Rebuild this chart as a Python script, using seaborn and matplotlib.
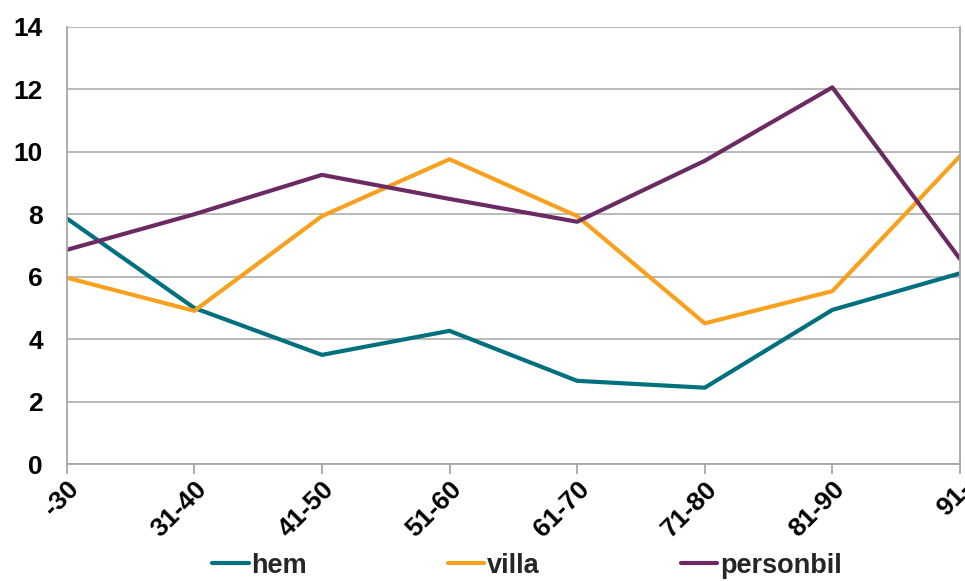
import matplotlib
matplotlib.use("Agg")
import matplotlib.pyplot as plt
import seaborn as sns
import pandas as pd
from matplotlib.lines import Line2D

categories = ["-30", "31-40", "41-50", "51-60", "61-70", "71-80", "81-90", "91-"]
hem = [7.87, 5.0, 3.5, 4.27, 2.67, 2.45, 4.94, 6.11]
villa = [5.97, 4.91, 7.94, 9.76, 7.94, 4.51, 5.54, 9.86]
personbil = [6.86, 8.0, 9.26, 8.49, 7.76, 9.71, 12.06, 6.57]
series_names = ["hem", "villa", "personbil"]
colors = ["#00707E", "#F7A11F", "#6B2A62"]
yticks = [0, 2, 4, 6, 8, 10, 12, 14]

df = pd.DataFrame({"kat": categories, "hem": hem, "villa": villa, "personbil": personbil})
long = df.melt(id_vars="kat", var_name="serie", value_name="varde")
long["x"] = long["kat"].map({c: i for i, c in enumerate(categories)})

sns.set_theme(style="white")
plt.rcParams["font.family"] = ["Liberation Sans", "DejaVu Sans"]
plt.rcParams["font.weight"] = "bold"

fig = plt.figure(figsize=(9.65, 5.81), dpi=100)
ax = fig.add_axes([0.0691, 0.2009, 0.9257, 0.7531])

sns.lineplot(data=long, x="x", y="varde", hue="serie", hue_order=series_names,
             palette=colors, linewidth=3, ax=ax, legend=False, sort=False)

ax.set_xlim(0, len(categories) - 1)
ax.set_ylim(0, 14)
ax.set_yticks(yticks)
ax.set_yticklabels([str(v) for v in yticks], fontsize=19, fontweight="bold")
ax.set_xticks(range(len(categories)))
ax.set_xticklabels(categories, rotation=45, ha="right", rotation_mode="anchor",
                   fontsize=19, fontweight="bold")
ax.set_xlabel("")
ax.set_ylabel("")
ax.grid(axis="y", color="#B3B3B3", linewidth=1.3)
ax.set_axisbelow(True)
for s in ["left", "bottom", "right"]:
    ax.spines[s].set_visible(True)
    ax.spines[s].set_color("#A6A6A6")
    ax.spines[s].set_linewidth(1.3)
ax.spines["top"].set_visible(False)
ax.tick_params(axis="x", which="major", length=7, width=1.3, color="#A6A6A6",
               direction="out", bottom=True, pad=2, labelcolor="black")
ax.tick_params(axis="y", length=0, pad=17, labelcolor="black")

handles = [Line2D([0], [0], color=c, linewidth=3) for c in colors]
fig.legend(handles, series_names, loc="center", bbox_to_anchor=(0.546, 0.026),
           ncol=3, frameon=False, handlelength=1.35, handletextpad=0.1,
           columnspacing=5.2, prop={"weight": "bold", "size": 19.5})

fig.savefig("out.png", dpi=100)
